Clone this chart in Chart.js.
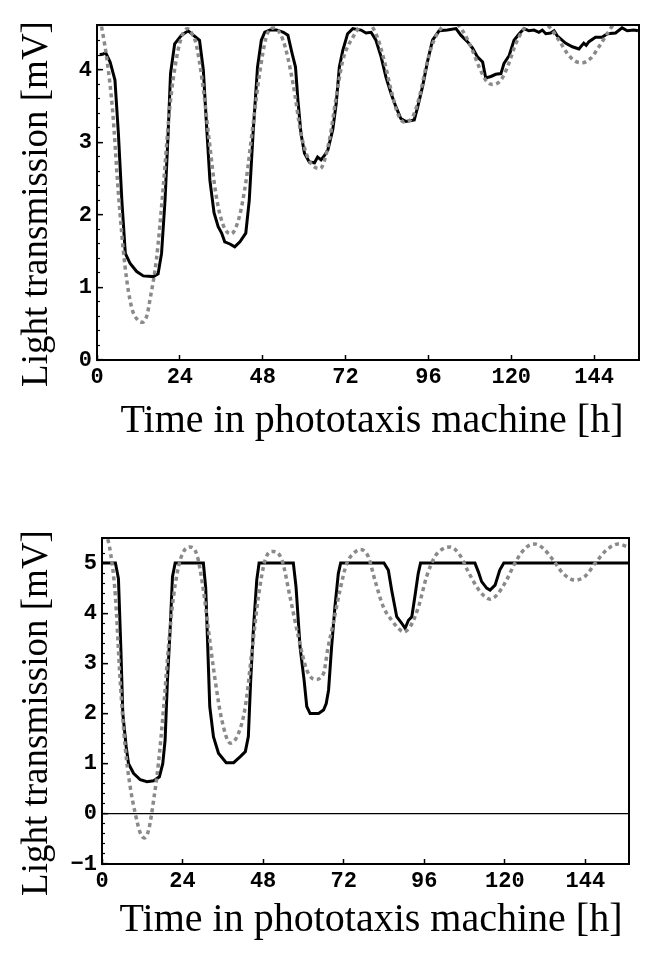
<!DOCTYPE html>
<html>
<head>
<meta charset="utf-8">
<script src="https://cdn.jsdelivr.net/npm/chart.js@4.4.1/dist/chart.umd.min.js"></script>
<style>
  html, body { margin: 0; padding: 0; background: #fff; }
  body { width: 658px; height: 954px; position: relative; overflow: hidden; }
  .panel { position: absolute; left: 0; width: 658px; }
  #p1 { top: 0; height: 460px; }
  #p2 { top: 470px; height: 484px; }
</style>
</head>
<body>
<div class="panel" id="p1"><canvas id="chartTop"></canvas></div>
<div class="panel" id="p2"><canvas id="chartBottom"></canvas></div>
<script>
// tick labels
const hourTicks = [0, 24, 48, 72, 96, 120, 144];
const topValueTicks = [0, 1, 2, 3, 4];
const bottomValueTicks = [-1, 0, 1, 2, 3, 4, 5];

// top panel, measured (solid black)
const topMeasuredHours = [0.8, 1.8, 2.5, 3.8, 5.2, 6.2, 7.2, 8.2, 9.6, 11.5, 13.4, 16.3, 17.7, 18.7, 19.7, 20.6, 21.3, 22.5, 24.5, 26.4,
  27.9, 29.7, 30.8, 31.7, 32.7, 33.9, 35.1, 36.1, 37.0, 38.5, 39.9, 41.4, 43.1, 44.1, 45.2, 46.5, 47.6, 48.6, 50.1, 52.0,
  54.0, 55.3, 56.5, 57.5, 58.2, 59.1, 60.1, 61.5, 63.0, 63.9, 64.9, 65.9, 66.9, 68.3, 69.3, 70.2, 71.2, 72.6, 74.1, 76.5,
  77.9, 79.4, 80.8, 82.3, 83.7, 85.2, 86.6, 88.0, 89.5, 91.9, 92.9, 94.3, 95.8, 97.2, 99.1, 101.5, 104.0, 105.4, 107.3, 108.8,
  110.2, 111.7, 112.6, 114.1, 115.5, 117.0, 117.9, 119.4, 120.8, 122.3, 123.7, 125.1, 126.6, 128.0, 129.0, 130.0, 131.4, 132.4, 133.3, 135.7,
  137.7, 139.6, 141.0, 141.7, 142.5, 144.4, 146.3, 147.8, 150.2, 152.1, 153.6, 155.5, 156.7];
const topMeasuredMv = [4.21, 4.22, 4.24, 4.11, 3.86, 3.12, 2.2, 1.47, 1.33, 1.22, 1.16, 1.15, 1.19, 1.47, 2.2, 3.12, 3.95, 4.36, 4.48, 4.54,
  4.48, 4.41, 4.0, 3.26, 2.48, 2.03, 1.84, 1.75, 1.63, 1.6, 1.56, 1.63, 1.75, 2.2, 3.12, 4.04, 4.41, 4.52, 4.55, 4.55,
  4.52, 4.48, 4.23, 4.04, 3.58, 3.12, 2.85, 2.73, 2.72, 2.8, 2.76, 2.82, 2.9, 3.18, 3.54, 4.04, 4.27, 4.5, 4.57, 4.55,
  4.51, 4.52, 4.41, 4.18, 3.9, 3.67, 3.49, 3.33, 3.29, 3.31, 3.49, 3.77, 4.13, 4.41, 4.54, 4.55, 4.57, 4.48, 4.39, 4.3,
  4.18, 4.11, 3.89, 3.91, 3.94, 3.95, 4.09, 4.2, 4.41, 4.5, 4.57, 4.54, 4.55, 4.52, 4.55, 4.5, 4.51, 4.54, 4.47, 4.37,
  4.32, 4.29, 4.37, 4.34, 4.39, 4.45, 4.45, 4.5, 4.51, 4.58, 4.54, 4.55, 4.54];

// top panel, model (grey dotted)
const topModelHours = [0, 1.5, 3.0, 4.5, 6.2, 8.1, 10.0, 11.8, 13.2, 14.5, 15.3, 17.2, 19.2, 21.1, 23.1, 24.7, 26.2, 27.5, 28.7, 30.6,
  32.5, 34.4, 36.4, 38.8, 41.2, 43.2, 45.1, 47.1, 49.0, 51.0, 53.9, 56.8, 59.1, 61.5, 64.6, 67.3, 69.3, 71.2, 74.1, 78.0,
  80.8, 83.2, 85.2, 87.1, 89.0, 91.4, 93.4, 95.3, 97.2, 99.6, 103.0, 105.9, 108.3, 110.7, 112.6, 114.5, 117.0, 118.9, 121.3, 123.7,
  127.0, 130.9, 133.8, 136.2, 138.2, 140.5, 143.0, 145.4, 147.8, 149.7, 153.0, 156.7];
const topModelMv = [4.9, 4.55, 4.1, 3.45, 2.3, 1.3, 0.73, 0.55, 0.52, 0.62, 0.82, 1.38, 2.39, 3.49, 4.18, 4.48, 4.57, 4.5, 4.36, 3.81,
  3.03, 2.3, 1.88, 1.74, 1.97, 2.48, 3.21, 3.95, 4.45, 4.58, 4.41, 3.81, 3.12, 2.75, 2.64, 3.03, 3.63, 4.13, 4.45, 4.66,
  4.5, 4.13, 3.72, 3.4, 3.28, 3.35, 3.63, 4.04, 4.36, 4.57, 4.67, 4.54, 4.32, 4.04, 3.86, 3.8, 3.86, 4.04, 4.36, 4.57,
  4.67, 4.6, 4.41, 4.23, 4.13, 4.1, 4.16, 4.32, 4.5, 4.63, 4.7, 4.64];

// bottom panel, measured (solid black, saturates at 5)
const bottomMeasuredHours = [0, 4.0, 4.9, 5.6, 6.2, 7.2, 7.9, 9.4, 11.4, 13.4, 15.4, 17.1, 18.1, 18.8, 19.5, 20.3, 21.0, 21.8, 30.2, 30.9,
  31.5, 32.1, 33.2, 34.7, 37.0, 39.2, 41.2, 42.7, 43.6, 44.3, 45.1, 46.1, 46.8, 57.0, 57.8, 59.0, 60.2, 61.0, 62.0, 64.5,
  66.0, 66.8, 67.5, 68.4, 69.4, 70.4, 71.1, 84.0, 85.3, 86.3, 87.8, 89.3, 90.3, 91.3, 92.3, 93.2, 94.2, 94.9, 111.1, 112.1,
  113.1, 114.6, 115.6, 117.1, 118.5, 119.7, 157];
const bottomMeasuredMv = [5, 5, 4.69, 3.33, 2.0, 1.34, 1.0, 0.81, 0.68, 0.64, 0.66, 0.74, 1.0, 1.47, 2.67, 3.67, 4.73, 5, 5, 4.5,
  3.33, 2.14, 1.54, 1.21, 1.02, 1.02, 1.14, 1.24, 1.54, 2.67, 3.67, 4.66, 5, 5, 4.53, 3.33, 2.67, 2.14, 2.0, 2.0,
  2.07, 2.2, 2.47, 3.33, 4.13, 4.79, 5, 5, 4.86, 4.46, 3.93, 3.8, 3.7, 3.86, 3.93, 4.33, 4.79, 5, 5, 4.83,
  4.63, 4.5, 4.46, 4.56, 4.86, 5, 5];

// bottom panel, model (grey dotted)
const bottomModelHours = [0, 1.5, 3.0, 4.0, 5.4, 6.9, 8.4, 9.9, 11.4, 12.6, 13.9, 15.4, 16.8, 18.3, 19.8, 21.3, 23.3, 26.1, 28.3, 30.2,
  31.7, 33.7, 35.7, 38.2, 40.7, 42.7, 44.6, 46.6, 48.6, 50.9, 53.6, 56.0, 58.5, 61.0, 63.5, 66.0, 67.3, 68.9, 70.9, 72.9,
  74.9, 76.9, 79.3, 81.3, 83.8, 86.3, 88.3, 89.8, 91.8, 94.3, 96.7, 99.2, 101.7, 103.7, 106.6, 109.1, 111.6, 113.6, 115.6, 117.6,
  120.5, 123.5, 126.5, 129.0, 131.5, 134.4, 137.4, 140.9, 143.8, 147.3, 150.3, 153.8, 156.7];
const bottomModelMv = [5.55, 5.5, 4.99, 4.33, 2.67, 1.34, 0.54, 0.01, -0.38, -0.48, -0.32, 0.28, 1.0, 2.07, 3.33, 4.33, 5.06, 5.32, 5.16, 4.46,
  3.67, 2.67, 1.87, 1.41, 1.61, 2.14, 3.2, 4.33, 5.06, 5.23, 5.06, 4.33, 3.53, 2.87, 2.68, 2.8, 3.3, 3.8, 4.46, 4.99,
  5.19, 5.27, 5.13, 4.66, 4.13, 3.86, 3.7, 3.63, 3.73, 4.13, 4.73, 5.13, 5.29, 5.32, 5.16, 4.83, 4.53, 4.36, 4.28, 4.36,
  4.66, 5.06, 5.32, 5.38, 5.29, 5.06, 4.79, 4.66, 4.73, 5.03, 5.26, 5.38, 5.32];

const xTitle = 'Time in phototaxis machine [h]';
const yTitle = 'Light transmission [mV]';

function pairs(xs, ys) {
  return xs.map((x, i) => ({ x: x, y: ys[i] }));
}

const tickFont = { family: '"Liberation Mono", "DejaVu Sans Mono", monospace', size: 22, weight: 'bold' };

// frame on all four sides + serif axis titles
const frameAndTitles = {
  id: 'axisTitles',
  afterDraw(chart, args, opts) {
    const ctx = chart.ctx;
    const a = chart.chartArea;
    ctx.save();
    ctx.strokeStyle = '#000';
    ctx.lineWidth = 2;
    ctx.strokeRect(a.left, a.top, a.right - a.left, a.bottom - a.top);

    ctx.fillStyle = '#000';
    ctx.textAlign = 'center';
    ctx.textBaseline = 'alphabetic';
    ctx.font = opts.xSize + 'px "Liberation Serif", "Times New Roman", serif';
    ctx.fillText(xTitle, opts.xCenter, opts.xBaseline);

    ctx.translate(opts.yBaseline, opts.yCenter);
    ctx.rotate(-Math.PI / 2);
    ctx.font = opts.ySize + 'px "Liberation Serif", "Times New Roman", serif';
    ctx.fillText(yTitle, 0, 0);
    ctx.restore();
  }
};

function buildChart(id, cfg) {
  return new Chart(document.getElementById(id), {
    type: 'line',
    data: {
      datasets: [
        {
          label: 'model',
          data: pairs(cfg.modelT, cfg.modelV),
          borderColor: '#8a8a8a',
          borderWidth: 3.5,
          borderDash: [4, 3.5],
          pointRadius: 0,
          cubicInterpolationMode: 'monotone',
          clip: 0
        },
        {
          label: 'measured',
          data: pairs(cfg.measuredT, cfg.measuredV),
          borderColor: '#000',
          borderWidth: 3,
          pointRadius: 0,
          tension: 0,
          clip: 0
        }
      ]
    },
    options: {
      responsive: true,
      maintainAspectRatio: false,
      animation: false,
      layout: { padding: { top: cfg.padTop, right: cfg.padRight, left: 0, bottom: 0 } },
      plugins: {
        legend: { display: false },
        tooltip: { enabled: false },
        axisTitles: cfg.titles
      },
      scales: {
        x: {
          type: 'linear',
          min: 0,
          max: 157,
          afterBuildTicks: s => { s.ticks = hourTicks.map(v => ({ value: v })); },
          afterFit: s => { s.height = cfg.xAxisHeight; },
          grid: { drawOnChartArea: false, tickLength: -5, tickColor: '#000', tickWidth: 1.5 },
          border: { color: '#000', width: 2 },
          ticks: { padding: 9, color: '#000', font: tickFont, maxRotation: 0, autoSkip: false }
        },
        y: {
          type: 'linear',
          position: 'left',
          weight: 1,
          min: cfg.yMin,
          max: cfg.yMax,
          afterBuildTicks: s => { s.ticks = cfg.yTicks.map(v => ({ value: v })); },
          afterFit: s => { s.width = cfg.yAxisWidth; },
          grid: {
            drawOnChartArea: cfg.zeroLine,
            color: c => (c.tick && c.tick.value === 0) ? '#000' : 'rgba(0,0,0,0)',
            lineWidth: 1.3,
            tickLength: -6,
            tickColor: '#000',
            tickWidth: 1.5
          },
          border: { color: '#000', width: 2 },
          ticks: {
            padding: 11,
            color: '#000',
            font: tickFont,
            callback: v => (v < 0 ? '\u2212' + Math.abs(v) : String(v))
          }
        },
        yMinor: {
          type: 'linear',
          position: 'left',
          weight: 0,
          min: cfg.yMin,
          max: cfg.yMax,
          afterFit: s => { s.width = 0; },
          grid: { drawOnChartArea: false, tickLength: -3, tickColor: '#000', tickWidth: 1.2 },
          border: { display: false },
          ticks: { display: false, stepSize: 0.2 }
        }
      }
    },
    plugins: [frameAndTitles]
  });
}

buildChart('chartTop', {
  measuredT: topMeasuredHours, measuredV: topMeasuredMv,
  modelT: topModelHours, modelV: topModelMv,
  yMin: 0, yMax: 4.62, yTicks: topValueTicks, zeroLine: false,
  padTop: 25, padRight: 19, yAxisWidth: 97, xAxisHeight: 100,
  titles: { xSize: 40, xCenter: 372, xBaseline: 432, ySize: 37, yBaseline: 47, yCenter: 204 }
});

buildChart('chartBottom', {
  measuredT: bottomMeasuredHours, measuredV: bottomMeasuredMv,
  modelT: bottomModelHours, modelV: bottomModelMv,
  yMin: -1, yMax: 5.5, yTicks: bottomValueTicks, zeroLine: true,
  padTop: 68, padRight: 29, yAxisWidth: 102, xAxisHeight: 90,
  titles: { xSize: 40, xCenter: 371, xBaseline: 461, ySize: 37, yBaseline: 47, yCenter: 243 }
});
</script>
</body>
</html>
